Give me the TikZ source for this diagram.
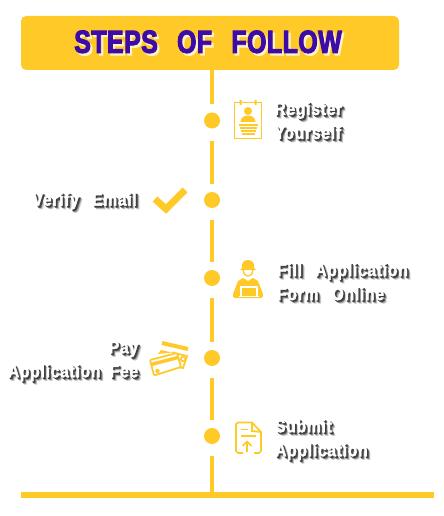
\documentclass[tikz,border=0pt]{standalone}
\usepackage{fontspec}
\usepackage{xcolor}
\usetikzlibrary{positioning, calc, arrows.meta}
\newfontfamily\headfont[FakeBold=3, FakeStretch=0.78, WordSpace=2.6, LetterSpace=1.4]{Liberation Sans Bold}
\newfontfamily\stepfont[FakeBold=2, FakeStretch=0.86, WordSpace=2.6, LetterSpace=4.2]{Liberation Sans Bold}
\definecolor{stepyellow}{HTML}{FFC928}
\definecolor{headblue}{HTML}{3D0CA8}
\definecolor{headshade}{HTML}{FFF3C6}
\newcommand{\layerline}[4]{\makebox[0pt][l]{\kern#1\raisebox{#2}{\textcolor{#3}{#4}}}}
\newcommand{\stepline}[1]{\layerline{2.6pt}{-2.6pt}{black!15}{#1}\layerline{2.1pt}{-2.1pt}{black!30}{#1}\layerline{1.6pt}{-1.6pt}{black!55}{#1}\layerline{1.1pt}{-1.1pt}{black!75}{#1}\textcolor{white}{#1}}
\newcommand{\headline}[1]{\layerline{1.6pt}{-1.8pt}{headshade}{#1}\textcolor{headblue}{#1}}
\tikzset{
  header/.style={fill=stepyellow, rounded corners=3.8pt, minimum width=283.5pt, minimum height=40.5pt, inner sep=0pt, font=\headfont\fontsize{24}{28}\selectfont},
  dotnode/.style={circle, fill=stepyellow, minimum size=12pt, inner sep=0pt},
  spine/.style={draw=stepyellow, line width=3pt},
  stepright/.style={inner sep=0pt, align=left, font=\stepfont\fontsize{13.6}{18}\selectfont},
  stepleft/.style={inner sep=0pt, align=right, font=\stepfont\fontsize{13.6}{18}\selectfont},
  iconline/.style={draw=stepyellow, line width=1.3pt, fill=none},
  iconfill/.style={fill=stepyellow, draw=none}
}
\begin{document}
\begin{tikzpicture}[x=0.75pt, y=-0.75pt]
  \useasboundingbox (0, 0) rectangle (443, 516);
  \node[header] (head) at (210, 43) {\hspace*{-3pt}\headline{STEPS OF FOLLOW}};
  \foreach \name/\y in {dot1/120.5, dot2/200, dot3/278, dot4/358, dot5/436} {
    \node[dotnode] (\name) at (212, \y) {};
  }
  \coordinate (baseL) at (21, 495);
  \coordinate (baseR) at (434, 495);
  \draw[spine, shorten >=6pt] (head.south -| dot1) -- (dot1);
  \foreach \from/\to in {dot1/dot2, dot2/dot3, dot3/dot4, dot4/dot5} {
    \draw[spine, shorten <=9pt, shorten >=6pt] (\from) -- (\to);
  }
  \draw[spine, shorten <=9pt] (dot5) -- (dot5 |- baseL);
  \draw[stepyellow, line width=4.2pt] (baseL) -- (baseR);

  \node[stepright, right=40.5pt of dot1, yshift=-1.25pt] (reg) {\stepline{Register}\\\stepline{Yourself}};
  \node[stepleft, left=50pt of dot2, yshift=-2pt] (verify) {\stepline{Verify Email}};
  \node[stepright, right=42.5pt of dot3, yshift=-4pt] (fill) {\stepline{Fill Application}\\\stepline{Form Online}};
  \node[stepleft, left=49pt of dot4, yshift=-3.5pt] (pay) {\stepline{Pay}\\\stepline{Application\kern-3pt{} Fee}};
  \node[stepright, right=41pt of dot5, yshift=-4pt] (submit) {\stepline{Submit}\\\stepline{Application}};

  % register
  \draw[iconline] (234.5, 102.5) rectangle (261.5, 138.5);
  \fill[stepyellow] (239.5, 100) rectangle (241.5, 105) (254.5, 100) rectangle (256.5, 105);
  \fill[iconfill] (248, 111) circle (4);
  \fill[iconfill] (240.5, 122) .. controls (240.5, 117) and (245, 115.5) .. (248, 115.5) .. controls (251, 115.5) and (255.5, 117) .. (255.5, 122) -- cycle;
  \foreach \y/\l/\r in {125/239/258, 128/240/257, 131/241/256, 134/242/255} {
    \draw[stepyellow, line width=1pt] (\l, \y) -- (\r, \y);
  }
  % check
  \draw[stepyellow, line width=5.2pt] (155, 199) -- (166, 209) -- (185, 190);
  % worker
  \fill[iconfill] (242, 268) .. controls (241, 263) and (244, 260) .. (248, 260) .. controls (252, 260) and (255, 263) .. (254, 268) -- (256, 270) -- (240, 270) -- cycle;
  \draw[stepyellow, line width=1pt] (243, 269) .. controls (243, 273) and (245, 276) .. (248, 276) .. controls (251, 276) and (253, 273) .. (253, 269);
  \fill[iconfill] (243, 278) -- (248, 281) -- (253, 278) -- (258, 281) -- (263, 294) .. controls (263.5, 296) and (263, 298) .. (261, 298) -- (235, 298) .. controls (233, 298) and (232.5, 296) .. (233, 294) -- (238, 281) -- cycle;
  \draw[white, line width=0.8pt] (241, 296) -- (241, 287) -- (257, 287) -- (257, 296);
  \draw[white, line width=0.8pt] (239, 296.5) -- (259, 296.5);
  % cards
  \draw[stepyellow, line width=3pt] (162, 343) -- (188, 349);
  \fill[iconfill] (158, 354) -- (161, 350) -- (172, 352.5) -- cycle;
  \draw[stepyellow, line width=1.3pt] (172, 352.5) -- (187, 356) -- (183, 368) -- (178, 367);
  \fill[stepyellow] (183, 359) circle (3.2);
  \fill[white] (183, 359) circle (1.5);
  \draw[stepyellow, line width=1.3pt, fill=white, rounded corners=0.8pt] (150, 360) -- (177, 353) -- (181, 367) -- (154, 375.5) -- cycle;
  \draw[stepyellow, line width=2.6pt] (151, 364.5) -- (178, 357.5);
  \fill[iconfill] (157.5, 371) circle (2.2);
  % submit
  \draw[iconline, line join=round] (243, 453) -- (238, 453) -- (236, 451) -- (236, 424) -- (238, 422.5) -- (252, 422.5) -- (261, 432) -- (261, 451) -- (259, 453) -- (254, 453);
  \draw[iconline] (252, 422.5) -- (252, 431) -- (261, 432);
  \draw[iconline] (241, 429.5) -- (248, 429.5);
  \draw[iconline] (241, 436) -- (256, 436);
  \draw[iconline] (247, 452) -- (247, 442) (242.5, 446) -- (247, 441.5) -- (251.5, 446);
\end{tikzpicture}
\end{document}
